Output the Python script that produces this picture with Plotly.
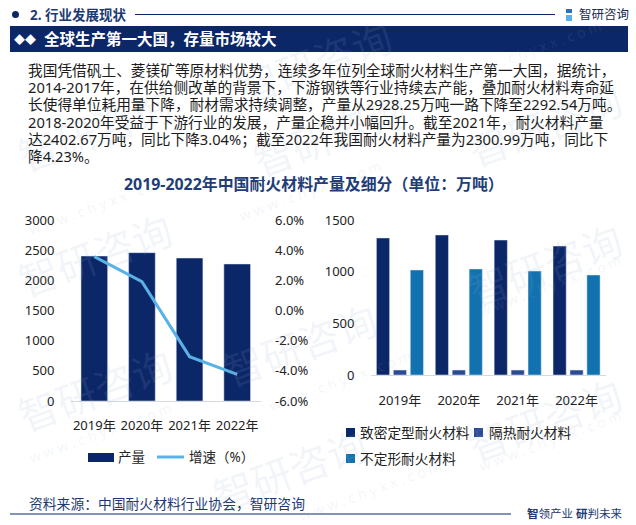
import plotly.graph_objects as go

FONT = 'Noto Sans, Noto Sans CJK SC'
NAVY = '#0c2768'
TEXT = '#222222'

years = ['2019年', '2020年', '2021年', '2022年']
output = [2403, 2459, 2370, 2271]
growth = [3.57, 1.91, -3.06, -4.23]

dense = [1326, 1355, 1306, 1248]
insulating = [48, 48, 48, 48]
monolithic = [1016, 1026, 1006, 968]

left_ticks = [0, 500, 1000, 1500, 2000, 2500, 3000]
growth_ticks = [-6, -4, -2, 0, 2, 4, 6]
growth_labels = ['-6.0%', '-4.0%', '-2.0%', '0.0%', '2.0%', '4.0%', '6.0%']
right_ticks = [0, 500, 1000, 1500]

body_lines = [
    '我国凭借矾土、菱镁矿等原材料优势，连续多年位列全球耐火材料生产第一大国，据统计，',
    '2014-2017年，在供给侧改革的背景下，下游钢铁等行业持续去产能，叠加耐火材料寿命延',
    '长使得单位耗用量下降，耐材需求持续调整，产量从2928.25万吨一路下降至2292.54万吨。',
    '2018-2020年受益于下游行业的发展，产量企稳并小幅回升。截至2021年，耐火材料产量',
    '达2402.67万吨，同比下降3.04%；截至2022年我国耐火材料产量为2300.99万吨，同比下',
    '降4.23%。',
]

W, H = 636, 525


def px(x):
    return x / W


def py(y):
    return 1 - y / H


def note(x, y, text, size=12, color=TEXT, anchor='left', bold=False, angle=0):
    if bold:
        text = f'<b>{text}</b>'
    return dict(x=px(x), y=py(y), xref='paper', yref='paper', text=text, showarrow=False,
                xanchor=anchor, yanchor='middle', textangle=angle,
                font=dict(family=FONT, size=size, color=color))


def rect(x0, y0, x1, y1, color):
    return dict(type='rect', xref='paper', yref='paper', x0=px(x0), x1=px(x1), y0=py(y0), y1=py(y1),
                fillcolor=color, line=dict(width=0), layer='above')


def hline(x0, x1, y, color, width=1.0):
    return dict(type='line', xref='paper', yref='paper', x0=px(x0), x1=px(x1), y0=py(y), y1=py(y),
                line=dict(color=color, width=width), layer='above')


fig = go.Figure()
fig.add_trace(go.Bar(x=years, y=output, name='产量', marker_color=NAVY, xaxis='x', yaxis='y'))
fig.add_trace(go.Scatter(x=years, y=growth, name='增速（%）', mode='lines',
                         line=dict(color='#58b2e6', width=3), xaxis='x', yaxis='y2'))
fig.add_trace(go.Bar(x=years, y=dense, name='致密定型耐火材料', marker_color=NAVY, xaxis='x2', yaxis='y3'))
fig.add_trace(go.Bar(x=years, y=insulating, name='隔热耐火材料', marker_color='#2b4a94', xaxis='x2', yaxis='y3'))
fig.add_trace(go.Bar(x=years, y=monolithic, name='不定形耐火材料', marker_color='#1272b0', xaxis='x2', yaxis='y3'))

annotations = []
shapes = []

# watermarks
mark_color = 'rgba(150,170,205,0.12)'
for x, y in [(315, 62), (95, 255), (95, 390), (330, 135), (545, 125), (545, 265), (300, 345),
             (545, 420), (290, 470), (95, 130)]:
    annotations.append(note(x, y, '智研咨询', size=40, color=mark_color, anchor='center', angle=-20))
for x, y in [(530, 50), (100, 205), (100, 432), (310, 190), (550, 285), (340, 380), (550, 440), (370, 490)]:
    annotations.append(note(x, y, 'w w w . c h y x x . c o m', size=14, color=mark_color, anchor='center', angle=-20))

# header
shapes.append(dict(type='circle', xref='paper', yref='paper', x0=px(12), x1=px(19), y0=py(11), y1=py(18),
                   fillcolor=NAVY, line=dict(width=0)))
annotations.append(note(28, 14.5, '2. 行业发展现状', size=13.5, color='#1d3a70', bold=True))
shapes.append(hline(135, 555, 14.5, NAVY, 1.2))
shapes.append(rect(566, 9, 572, 13, '#2f6fc0'))
shapes.append(rect(566, 15, 572, 21, '#58b2e6'))
annotations.append(note(577, 14.5, '智研咨询', size=12.5, color='#1a2a50'))

shapes.append(rect(10, 26, 628, 52, NAVY))
annotations.append(note(25, 39, '◆◆', size=11, color='white', anchor='center'))
annotations.append(note(42, 39, '全球生产第一大国，存量市场较大', size=15.5, color='white', bold=True))

# body copy
for i, line in enumerate(body_lines):
    annotations.append(note(26, 70 + i * 17.2, line, size=14.7, color='#1c1c1c'))

annotations.append(note(314, 184, '2019-2022年中国耐火材料产量及细分（单位：万吨）', size=15.9,
                        color='#1f3d78', anchor='center', bold=True))

# legends
shapes.append(rect(88, 453, 114, 462, NAVY))
annotations.append(note(116, 457, '产量', size=13.5))
shapes.append(hline(157, 184, 457, '#58b2e6', 3))
annotations.append(note(187, 457, '增速（%）', size=13.5))

shapes.append(rect(346, 428, 355, 437, NAVY))
annotations.append(note(358, 432, '致密定型耐火材料', size=13.7))
shapes.append(rect(474, 428, 483, 437, '#2b4a94'))
annotations.append(note(487, 432, '隔热耐火材料', size=13.7))
shapes.append(rect(346, 454, 355, 463, '#1272b0'))
annotations.append(note(358, 458, '不定形耐火材料', size=13.7))

# footer
annotations.append(note(27, 503, '资料来源：中国耐火材料行业协会，智研咨询', size=13.8, color='#1d3a70'))
shapes.append(hline(10, 511, 514, NAVY, 1.2))
annotations.append(note(525, 513, '<b>智</b>领产业 <b>研</b>判未来', size=11.5, color='#1d3a70'))

axis_font = dict(family=FONT, size=13, color=TEXT)
fig.update_layout(
    width=W, height=H,
    margin=dict(l=0, r=0, t=0, b=0, autoexpand=False),
    paper_bgcolor='white', plot_bgcolor='rgba(0,0,0,0)',
    showlegend=False,
    barmode='group',
    bargap=0.137, bargroupgap=0.22,
    annotations=annotations,
    shapes=shapes,
    xaxis=dict(domain=[px(70.5), px(261)], anchor='y', showgrid=False, ticks='', tickfont=axis_font,
               showline=True, linecolor='#d4d8e2', ticklabelstandoff=12),
    yaxis=dict(domain=[py(401), py(220)], range=[0, 3000], tickmode='array', tickvals=left_ticks,
               showgrid=False, zeroline=False, tickfont=axis_font, ticklabelstandoff=15),
    yaxis2=dict(domain=[py(401), py(220)], overlaying='y', side='right', anchor='x', range=[-6, 6],
                tickmode='array', tickvals=growth_ticks, ticktext=growth_labels,
                showgrid=False, zeroline=False, tickfont=axis_font, ticklabelstandoff=13),
    xaxis2=dict(domain=[px(370.5), px(606)], anchor='y3', showgrid=False, ticks='', tickfont=axis_font,
                showline=True, linecolor='#d4d8e2', ticklabelstandoff=13),
    yaxis3=dict(domain=[py(375), py(220)], anchor='x2', range=[0, 1500], tickmode='array', tickvals=right_ticks,
                showgrid=False, zeroline=False, tickfont=axis_font, ticklabelstandoff=15),
)

# left chart has one bar per year, so its width is set on the trace
fig.data[0].width = 0.56
fig.data[0].offset = -0.28

fig.write_html("out.html", config=dict(displayModeBar=False),
               post_script="document.body.style.margin='0';document.body.style.overflow='hidden';")
